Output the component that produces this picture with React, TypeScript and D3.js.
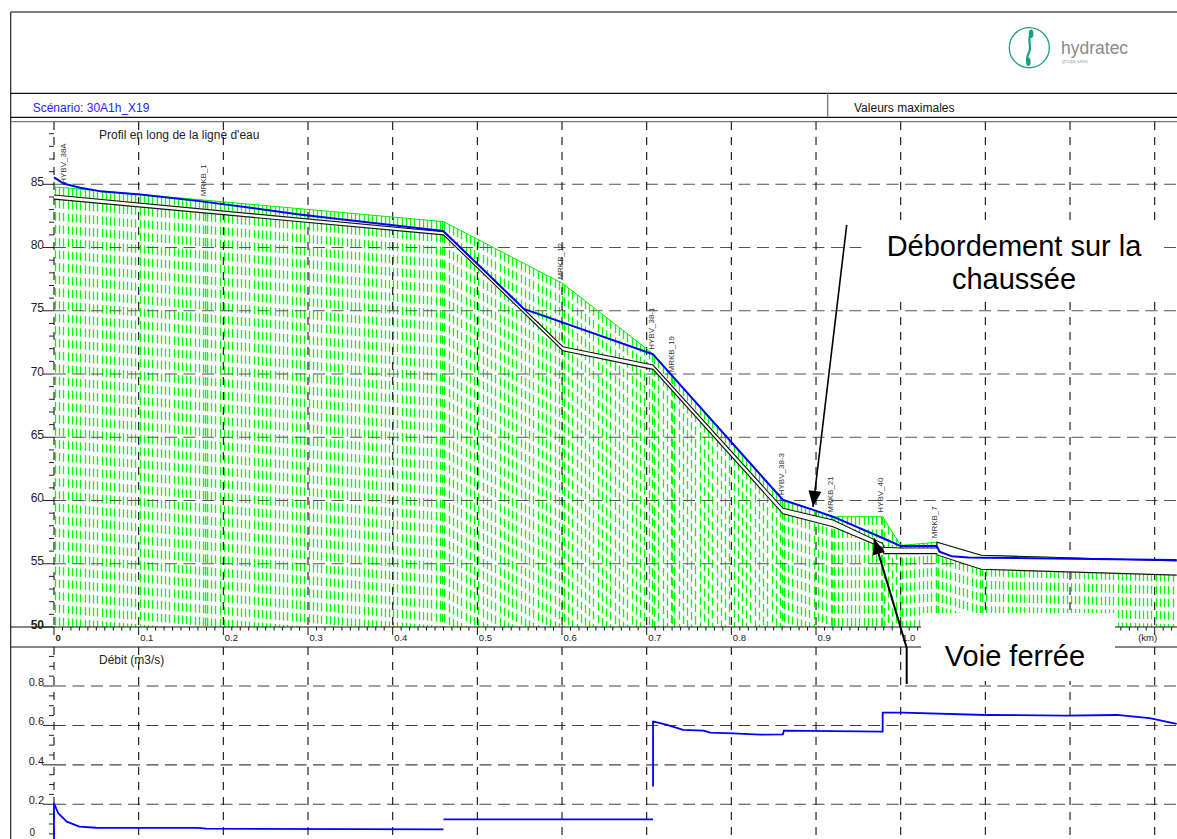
import React from "react";
import * as d3 from "d3";

const FONT = "'Liberation Sans', Arial, Helvetica, sans-serif";

// Ground level (terrain naturel), m
const groundKm = [0, 0.1795, 0.46, 0.601, 0.7075, 0.7314, 0.861, 0.92, 0.9787, 1.0, 1.0425, 1.095, 1.326];
const groundZ = [84.8, 83.74, 82.05, 77.15, 71.6, 69.81, 60.1, 58.72, 58.72, 56.45, 56.7, 55.67, 55.22];

// Maximum water level, m
const waterKm = [0, 0.011, 0.031, 0.054, 0.102, 0.172, 0.29, 0.46, 0.555, 0.7075, 0.861, 0.895, 0.92, 0.98, 1.0, 1.0425, 1.046, 1.06, 1.08, 1.1, 1.2, 1.326];
const waterZ = [85.55, 85.07, 84.72, 84.46, 84.2, 83.67, 82.62, 81.3, 75.15, 71.56, 60.04, 59.3, 58.72, 57.0, 56.4, 56.4, 55.95, 55.6, 55.5, 55.48, 55.4, 55.3];

// Conduit / channel: crown (or bank) and invert, m
const pipeKm = [0, 0.46, 0.601, 0.7075, 0.861, 0.92, 0.9787, 0.98, 1.0, 1.0425, 1.043, 1.095, 1.326];
const pipeCrown = [84.15, 81.25, 72.16, 70.71, 59.38, 58.46, 56.6, 56.3, 56.25, 56.25, 56.7, 55.67, 55.22];
const pipeInvert = [83.83, 81.0, 71.84, 70.37, 58.95, 57.93, 56.27, 55.8, 55.8, 55.8, 55.7, 54.56, 54.1];

// Nodes along the reach
const nodeNames = ["HYBV_38A", "MRKB_1", "MRKB_12", "HYBV_38-1", "MRKB_19", "HYBV_38-3", "MRKB_21", "HYBV_40", "MRKB_7"];
const nodeKm = [0.013, 0.1795, 0.601, 0.7075, 0.7314, 0.861, 0.92, 0.9787, 1.0425];

// Maximum discharge, m3/s (null = break between reaches)
const flowKm = [0, 0, 0.005, 0.015, 0.03, 0.05, 0.17, 0.18, 0.46, 0.46, 0.46, 0.7075, 0.7075,
  0.7075, 0.7075, 0.724, 0.743, 0.767, 0.775, 0.802, 0.834, 0.861, 0.862, 0.9787, 0.9787, 1.003, 1.1, 1.196, 1.255, 1.294, 1.326];
const flowQ: (number | null)[] = [0, 0.205, 0.155, 0.112, 0.087, 0.081, 0.08, 0.076, 0.073, null, 0.123, 0.123, null,
  0.29, 0.62, 0.603, 0.577, 0.574, 0.563, 0.56, 0.553, 0.555, 0.574, 0.569, 0.665, 0.665, 0.653, 0.65, 0.653, 0.637, 0.608];

const kmTicks = [0, 0.1, 0.2, 0.3, 0.4, 0.5, 0.6, 0.7, 0.8, 0.9, 1.0, 1.1, 1.2, 1.3];
const kmLabels = ["0", "0.1", "0.2", "0.3", "0.4", "0.5", "0.6", "0.7", "0.8", "0.9", "1.0", "1.1", "1.2", "(km)"];
const zTicks = [50, 55, 60, 65, 70, 75, 80, 85];
const qTicks = [0, 0.2, 0.4, 0.6, 0.8];
const qLabels = ["0", "0.2", "0.4", "0.6", "0.8"];

const W = 1177;
const H = 839;

// white label panels laid over the chart
const noteBox1 = { x: 862, y: 226, w: 298, h: 72 };
const noteBox2 = { x: 921, y: 613, w: 194, h: 68 };

export default function App() {
  const x = d3.scaleLinear().domain([0, 1.3]).range([54, 1154.7]);
  const yZ = d3.scaleLinear().domain([50, 85]).range([627, 184.3]);
  const yQ = d3.scaleLinear().domain([0, 0.8]).range([843.7, 686]);

  const zGround = d3.scaleLinear().domain(groundKm).range(groundZ);
  const zWater = d3.scaleLinear().domain(waterKm).range(waterZ);
  const zCrown = d3.scaleLinear().domain(pipeKm).range(pipeCrown);

  const profTop = 122;
  const profBottom = yZ(50);
  const qTop = 647;
  const x0 = x(0);

  const lineOf = (kms: number[], zs: number[]) =>
    d3.line<number>().x((_, i) => x(kms[i])).y((d) => yZ(d))(zs) as string;

  const pipeBand = d3
    .area<number>()
    .x((_, i) => x(pipeKm[i]))
    .y0((_, i) => yZ(pipeInvert[i]))
    .y1((d) => yZ(d))(pipeCrown) as string;

  const flowPath = d3
    .line<[number, number | null]>()
    .defined((d) => d[1] !== null)
    .x((d) => x(d[0]))
    .y((d) => yQ(d[1] as number))(flowKm.map((k, i) => [k, flowQ[i]] as [number, number | null])) as string;

  // ground hatching: vertical dashed columns hanging from the ground line
  const hatchStep = x(0.005) - x(0);
  const hatchCols: number[] = [];
  for (let i = 0; i < groundKm.length - 1; i++) {
    const a = x(groundKm[i]);
    const b = Math.min(x(groundKm[i + 1]), W);
    for (let px = a + 1; px < b - 0.6; px += hatchStep) hatchCols.push(Math.round(px) + 0.5);
    if (i > 0) hatchCols.push(Math.round(a) + 1.5, Math.round(a) - 0.5);
  }

  const zMinor = d3.range(50, 90, 1);
  const qMinor = d3.range(0, 1.0, 0.05);
  const kmMinor = d3.range(0, 133).map((k) => k / 100);

  const gridH = "12 6.5";
  const gridV = "8 7";

  const hiddenByNote = (px: number) => px > noteBox2.x - 2 && px < noteBox2.x + noteBox2.w - 20;

  // annotation arrows
  const tip1: [number, number] = [x(0.8965), yZ(zWater(0.8965)) - 3];
  const tail1: [number, number] = [846.7, 225];
  const tip2: [number, number] = [x(0.9685), yZ(zCrown(0.9685)) - 1];
  const bend2: [number, number] = [906.7, 648];
  const tail2: [number, number] = [906.7, 684];

  const arrowHead = (tip: [number, number], from: [number, number], len = 16, half = 6.5) => {
    const dx = tip[0] - from[0];
    const dy = tip[1] - from[1];
    const l = Math.hypot(dx, dy);
    const ux = dx / l;
    const uy = dy / l;
    const bx = tip[0] - ux * len;
    const by = tip[1] - uy * len;
    return `M${tip[0]},${tip[1]}L${bx - uy * half},${by + ux * half}L${bx + uy * half},${by - ux * half}Z`;
  };

  const lc = 1029.3;
  const lcy = 47.7;

  return (
    <div style={{ position: "absolute", left: 0, top: 0, width: W, height: H, background: "#fff" }}>
      <svg width={W} height={H} style={{ display: "block", fontFamily: FONT }}>
        <rect x={0} y={0} width={W} height={H} fill="#fff" />

        {/* header frame */}
        <line x1={10.7} x2={W} y1={12} y2={12} stroke="#555" strokeWidth={1.4} />
        <line x1={10.7} x2={10.7} y1={12} y2={H} stroke="#222" strokeWidth={1.2} />
        <line x1={10.7} x2={W} y1={93.3} y2={93.3} stroke="#111" strokeWidth={1.3} />
        <line x1={10.7} x2={W} y1={117.3} y2={117.3} stroke="#111" strokeWidth={1.3} />
        <line x1={10.7} x2={W} y1={121.7} y2={121.7} stroke="#777" strokeWidth={1.2} />
        <line x1={827.7} x2={827.7} y1={93.3} y2={117.3} stroke="#777" strokeWidth={1.3} />
        <text x={32.7} y={111.7} fontSize={12} fill="#2424ff">Scénario: 30A1h_X19</text>
        <text x={854} y={111.7} fontSize={12} fill="#111">Valeurs maximales</text>

        {/* logo */}
        <circle cx={lc} cy={lcy} r={20} fill="none" stroke="#1a9e82" strokeWidth={1.3} />
        <path
          d={`M${lc + 2},${lcy - 15} C${lc - 3},${lcy - 7} ${lc + 3},${lcy - 2} ${lc},${lcy + 4} S${lc - 2.5},${lcy + 11} ${lc - 1},${lcy + 15}`}
          fill="none"
          stroke="#16a085"
          strokeWidth={2.2}
        />
        <ellipse cx={lc + 1.8} cy={lcy - 14} rx={2.3} ry={4.3} fill="#16a085" />
        <ellipse cx={lc - 1} cy={lcy + 14} rx={2.3} ry={4.3} fill="#16a085" />
        <text x={1061} y={54} fontSize={17.5} fill="#8a8a8a">hydratec</text>
        <text x={1062} y={63} fontSize={4.5} fill="#aaa">groupe setec</text>

        {/* ground hatching */}
        <g stroke="#00ff00" strokeWidth={1.3} strokeDasharray="8.4 4.25">
          {hatchCols.map((px, i) => (
            <line key={i} x1={px} x2={px} y1={yZ(zGround(x.invert(px)))} y2={profBottom} />
          ))}
        </g>

        {/* grid: profile */}
        <g strokeWidth={1.1} fill="none">
          {zTicks.filter((z) => z > 50).map((z) => (
            <line key={z} x1={x0} x2={W} y1={yZ(z)} y2={yZ(z)} strokeDasharray={gridH} stroke="#555" />
          ))}
          {kmTicks.map((k) => (
            <line key={k} x1={x(k)} x2={x(k)} y1={profTop} y2={profBottom} strokeDasharray={gridV} stroke="#111" />
          ))}
        </g>

        {/* ground line */}
        <path d={lineOf(groundKm, groundZ)} fill="none" stroke="#00ee00" strokeWidth={1} />

        {/* conduit */}
        <path d={pipeBand} fill="#fff" stroke="none" />
        <path d={lineOf(pipeKm, pipeCrown)} fill="none" stroke="#111" strokeWidth={1.1} />
        <path d={lineOf(pipeKm, pipeInvert)} fill="none" stroke="#111" strokeWidth={1.1} />

        {/* maximum water level */}
        <path d={lineOf(waterKm, waterZ)} fill="none" stroke="#0000ff" strokeWidth={2} strokeLinejoin="round" />

        {/* node labels */}
        {nodeNames.map((n, i) => {
          const px = x(nodeKm[i]) + 0.5;
          const py = yZ(zGround(nodeKm[i])) - 4;
          return (
            <text key={n} transform={`translate(${px},${py}) rotate(-90)`} fontSize={8} fill="#333">
              {n}
            </text>
          );
        })}

        <text x={99} y={139} fontSize={12} fill="#222">Profil en long de la ligne d'eau</text>

        {/* profile y axis */}
        <g stroke="#222" strokeWidth={1}>
          {zMinor.map((z) => (
            <line key={z} x1={z % 5 === 0 ? 43 : 49} x2={x0} y1={yZ(z)} y2={yZ(z)} />
          ))}
        </g>
        {zTicks.map((z) => (
          <text key={z} x={44} y={yZ(z) + 1.5} fontSize={12} textAnchor="end" fill="#222" fontWeight={z === 50 ? "bold" : "normal"}>
            {z}
          </text>
        ))}

        {/* profile x axis */}
        <line x1={10.7} x2={W} y1={profBottom} y2={profBottom} stroke="#111" strokeWidth={1.2} />
        <g stroke="#111" strokeWidth={1}>
          {kmMinor.map((k, i) => (
            <line key={i} x1={x(k)} x2={x(k)} y1={profBottom} y2={profBottom + (i % 10 === 0 ? 8 : 3.5)} />
          ))}
        </g>
        {kmTicks.map((k, i) =>
          hiddenByNote(x(k)) ? null : (
            <text
              key={k}
              x={kmLabels[i] === "(km)" ? x(k) + 2.5 : x(k) + 1.5}
              y={641}
              fontSize={9.5}
              fill="#222"
              textAnchor={kmLabels[i] === "(km)" ? "end" : "start"}
              fontWeight={k === 0 ? "bold" : "normal"}
            >
              {kmLabels[i]}
            </text>
          )
        )}

        {/* discharge panel */}
        <line x1={10.7} x2={W} y1={qTop} y2={qTop} stroke="#111" strokeWidth={1.2} />
        <g fill="none">
          {qTicks.filter((q) => q > 0).map((q) => (
            <line key={q} x1={x0} x2={W} y1={yQ(q)} y2={yQ(q)} strokeDasharray={gridH} stroke="#444" strokeWidth={1.1} />
          ))}
          {kmTicks.map((k) => (
            <line key={k} x1={x(k)} x2={x(k)} y1={qTop} y2={H} strokeDasharray={gridV} stroke="#111" strokeWidth={1.1} />
          ))}
        </g>
        <g stroke="#222" strokeWidth={1}>
          {qMinor.map((q, i) => (
            <line key={i} x1={i % 4 === 0 ? 43 : 49} x2={x0} y1={yQ(q)} y2={yQ(q)} />
          ))}
        </g>
        {qTicks.map((q, i) => (
          <text key={q} x={q === 0 ? 35 : 44} y={q === 0 ? H - 3.5 : yQ(q)} fontSize={q === 0 ? 10 : 11} textAnchor="end" fill="#222">
            {qLabels[i]}
          </text>
        ))}
        <text x={99} y={664} fontSize={12} fill="#222">Débit (m3/s)</text>
        <path d={flowPath} fill="none" stroke="#0000ff" strokeWidth={1.8} strokeLinejoin="round" />

        {/* annotations */}
        <rect x={noteBox1.x} y={noteBox1.y} width={noteBox1.w} height={noteBox1.h} fill="#fff" />
        <text x={1014} y={256} fontSize={29} textAnchor="middle" fill="#000">Débordement sur la</text>
        <text x={1014} y={289} fontSize={29} textAnchor="middle" fill="#000">chaussée</text>
        <line x1={tail1[0]} y1={tail1[1]} x2={tip1[0]} y2={tip1[1]} stroke="#000" strokeWidth={1.6} />
        <path d={arrowHead(tip1, tail1)} fill="#000" />

        <rect x={noteBox2.x} y={noteBox2.y} width={noteBox2.w} height={noteBox2.h} fill="#fff" />
        <text x={1015} y={666} fontSize={29} textAnchor="middle" fill="#000">Voie ferrée</text>
        <polyline
          points={`${tail2[0]},${tail2[1]} ${bend2[0]},${bend2[1]} ${tip2[0]},${tip2[1]}`}
          fill="none"
          stroke="#000"
          strokeWidth={2}
        />
        <path d={arrowHead(tip2, bend2)} fill="#000" />
      </svg>
    </div>
  );
}
